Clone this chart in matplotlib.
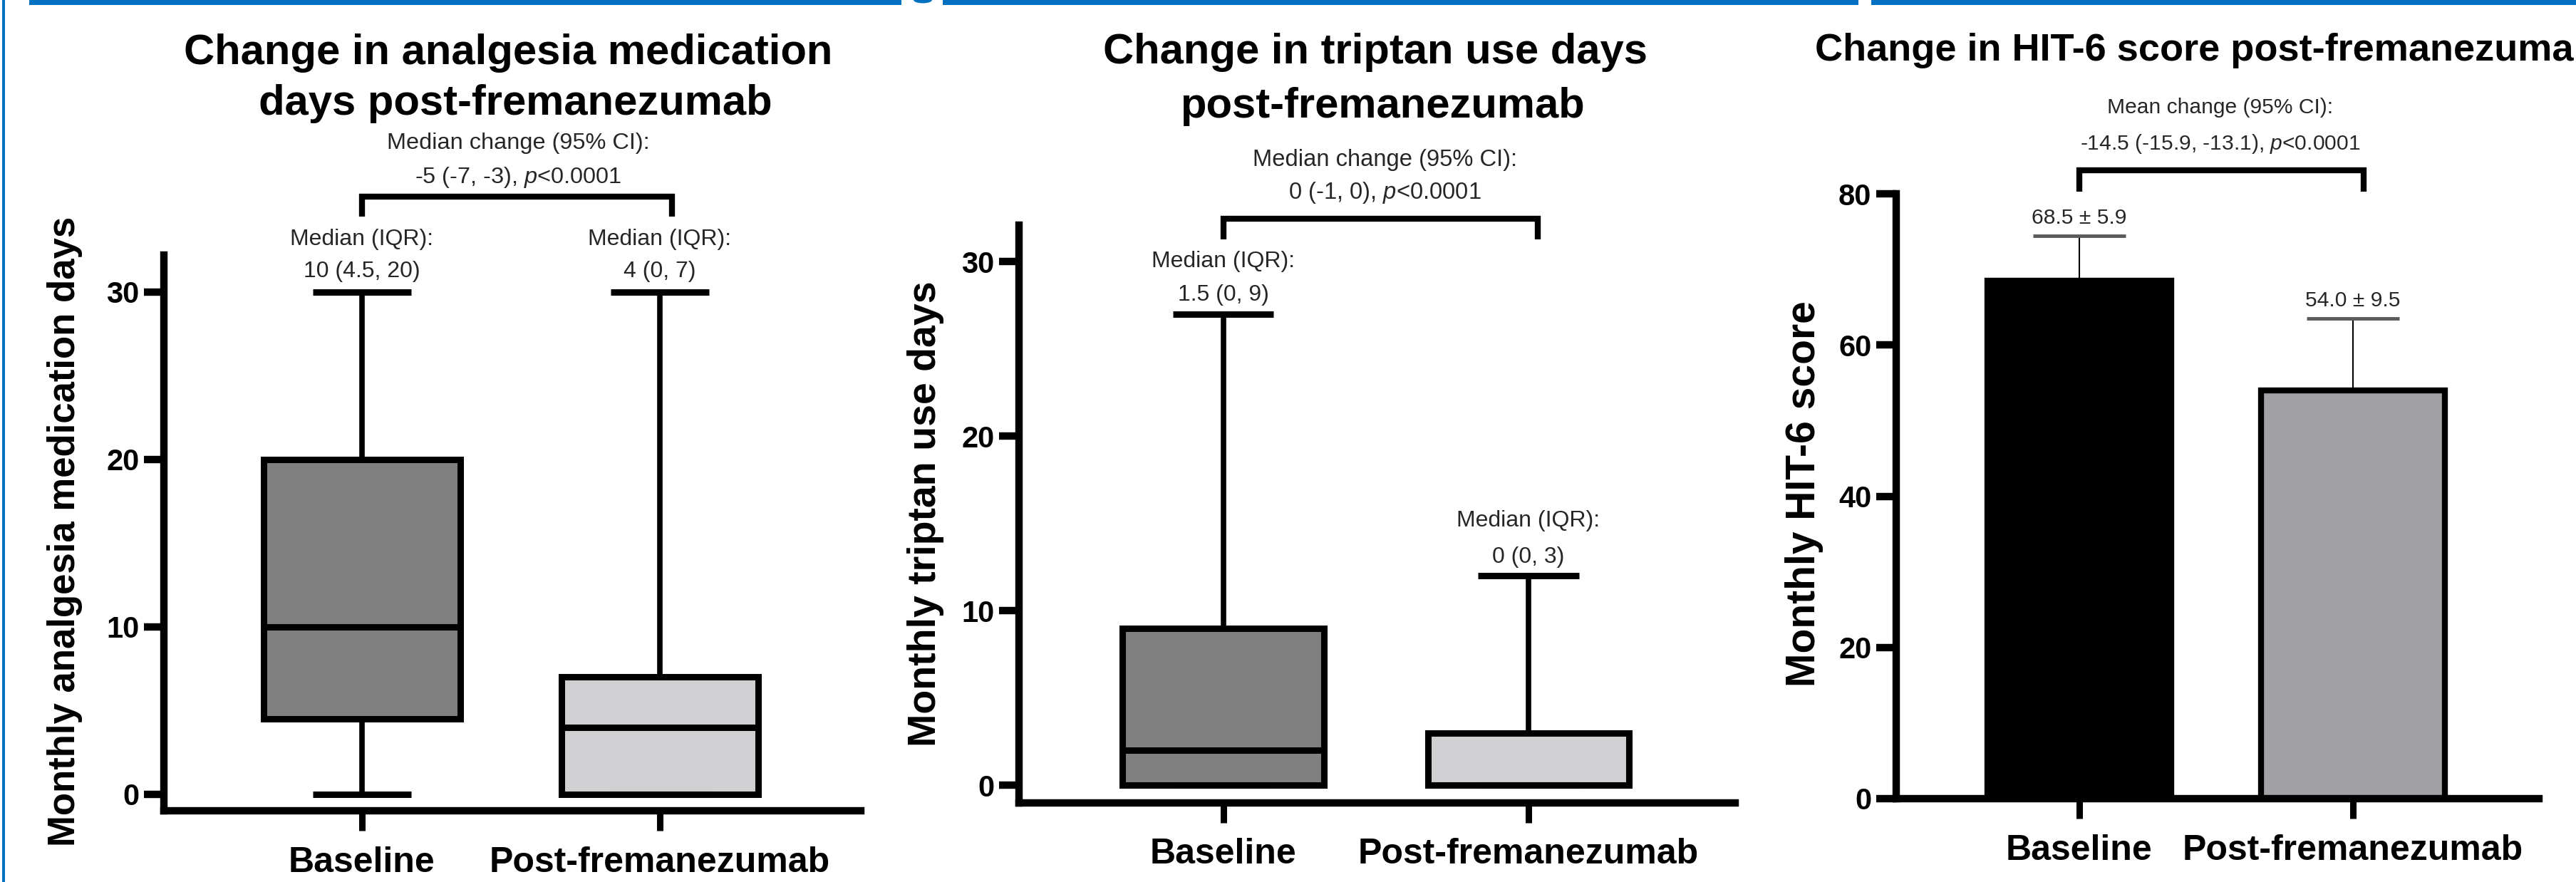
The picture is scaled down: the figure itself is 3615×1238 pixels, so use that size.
import matplotlib
matplotlib.use("Agg")
import matplotlib.pyplot as plt
from matplotlib.patches import Rectangle, Ellipse

plt.rcParams['font.family'] = ['Liberation Sans', 'DejaVu Sans']
plt.rcParams['mathtext.fontset'] = 'custom'
plt.rcParams['mathtext.rm'] = 'Liberation Sans'
plt.rcParams['mathtext.it'] = 'Liberation Sans:italic'

# ---------------- data ----------------
groups = ['Baseline', 'Post-fremanezumab']

analgesia_min = [0, 0]
analgesia_q1 = [4.5, 0]
analgesia_med = [10, 4]
analgesia_q3 = [20, 7]
analgesia_max = [30, 30]

triptan_min = [0, 0]
triptan_q1 = [0, 0]
triptan_med = [2, 0]
triptan_q3 = [9, 3]
triptan_max = [27, 12]

hit6_mean = [68.5, 54.0]
hit6_sd = [5.9, 9.5]

titles = [["Change in analgesia medication", "days post-fremanezumab"],
          ["Change in triptan use days", "post-fremanezumab"],
          ["Change in HIT-6 score post-fremanezumab"]]
ylabels = ["Monthly analgesia medication days",
           "Monthly triptan use days",
           "Monthly HIT-6 score"]
change_head = ["Median change (95% CI):", "Median change (95% CI):", "Mean change (95% CI):"]
change_vals = ["-5 (-7, -3), $\\mathit{p}$<0.0001",
               "0 (-1, 0), $\\mathit{p}$<0.0001",
               "-14.5 (-15.9, -13.1), $\\mathit{p}$<0.0001"]
analgesia_lbl = ["10 (4.5, 20)", "4 (0, 7)"]
triptan_lbl = ["1.5 (0, 9)", "0 (0, 3)"]
hit6_lbl = ["68.5 \u00b1 5.9", "54.0 \u00b1 9.5"]

box_colors = ['#808080', '#d0d0d2']
bar_colors = ['#000000', '#a2a1a6']
blue = '#0070c0'
txt_gray = '#262626'

W, H = 3615, 1238
fig = plt.figure(figsize=(W / 100, H / 100), dpi=100)


def ax_at(l, r, b, t):
    return fig.add_axes([l / W, 1 - b / H, (r - l) / W, (b - t) / H])


def style_axes(ax, yticks, xlim, ylim):
    for s in ['top', 'right']:
        ax.spines[s].set_visible(False)
    for s in ['left', 'bottom']:
        ax.spines[s].set_linewidth(7.5)
        ax.spines[s].set_capstyle('projecting')
    ax.set_xlim(*xlim)
    ax.set_ylim(*ylim)
    ax.set_yticks(yticks, [str(v) for v in yticks], fontsize=30, fontweight='bold')
    ax.set_xticks([0, 1], groups, fontsize=36, fontweight='bold')
    ax.tick_params(axis='y', length=20, width=7.5, pad=5)
    ax.tick_params(axis='x', length=20, width=6.5, pad=16)


def boxpanel(ax, mins, q1s, meds, q3s, maxs):
    stats = [dict(whislo=a, q1=b, med=c, q3=d, whishi=e, label=g)
             for a, b, c, d, e, g in zip(mins, q1s, meds, q3s, maxs, groups)]
    bp = ax.bxp(stats, positions=[0, 1], widths=0.66, capwidths=0.33,
                patch_artist=True, showfliers=False,
                boxprops=dict(linewidth=6.5, edgecolor='black'),
                medianprops=dict(color='black', linewidth=6.5, solid_capstyle='butt'),
                whiskerprops=dict(color='black', linewidth=5.5),
                capprops=dict(color='black', linewidth=6.5, solid_capstyle='butt'))
    for patch, c in zip(bp['boxes'], box_colors):
        patch.set_facecolor(c)


def bracket(ax, y_top, y_leg, x0, x1, lw=6):
    ax.plot([x0, x0, x1, x1], [y_leg, y_top, y_top, y_leg], color='black',
            lw=lw, clip_on=False, solid_joinstyle='miter', solid_capstyle='butt')


def note(ax, x, y, s, size):
    ax.text(x, y, s, ha='center', va='center', fontsize=size, color=txt_gray, clip_on=False)


# ---------------- panel 1 ----------------
ax1 = ax_at(230, 1208, 1138, 358)
boxpanel(ax1, analgesia_min, analgesia_q1, analgesia_med, analgesia_q3, analgesia_max)
style_axes(ax1, [0, 10, 20, 30], (-0.665, 1.675), (-1, 32.2))
bracket(ax1, 35.7, 34.5, 0, 1.04)
note(ax1, 0.524, 38.9, change_head[0], 23.4)
note(ax1, 0.524, 36.85, change_vals[0], 23.4)
for i in range(2):
    note(ax1, i, 33.15, "Median (IQR):", 23)
    note(ax1, i, 31.23, analgesia_lbl[i], 23)
ax1.set_ylabel(ylabels[0], fontsize=38, fontweight='bold')
ax1.yaxis.label.set(va='center', ha='center')
ax1.yaxis.set_label_coords(-0.142, 0.503)

# ---------------- panel 2 ----------------
ax2 = ax_at(1430, 2435, 1126.5, 316)
boxpanel(ax2, triptan_min, triptan_q1, triptan_med, triptan_q3, triptan_max)
style_axes(ax2, [0, 10, 20, 30], (-0.669, 1.677), (-1, 32.1))
bracket(ax2, 32.45, 31.3, 0, 1.03)
note(ax2, 0.53, 35.84, change_head[1], 23.6)
note(ax2, 0.53, 33.96, change_vals[1], 23.6)
note(ax2, 0, 30.0, "Median (IQR):", 23)
note(ax2, 0, 28.08, triptan_lbl[0], 23)
note(ax2, 1, 15.14, "Median (IQR):", 23)
note(ax2, 1, 13.06, triptan_lbl[1], 23)
ax2.set_ylabel(ylabels[1], fontsize=40, fontweight='bold')
ax2.yaxis.label.set(va='center', ha='center')
ax2.yaxis.set_label_coords(-0.130, 0.5)

# ---------------- panel 3 ----------------
ax3 = ax_at(2661, 3563, 1121, 272)
ax3.bar([0, 1], hit6_mean, width=0.672, color=bar_colors, edgecolor='black', linewidth=6, zorder=2)
tops = [m + s for m, s in zip(hit6_mean, hit6_sd)]
ax3.vlines([0, 1], hit6_mean, tops, color='black', lw=1.5, zorder=1)
ax3.hlines(tops, [-0.17, 0.83], [0.17, 1.17], color='#5a5a5a', lw=3.5, zorder=3)
style_axes(ax3, [0, 20, 40, 60, 80], (-0.669, 1.68), (0, 80))
bracket(ax3, 83.07, 80.3, 0, 1.04)
note(ax3, 0.516, 91.4, change_head[2], 21.6)
note(ax3, 0.516, 86.6, change_vals[2], 21.6)
note(ax3, 0, 76.8, hit6_lbl[0], 21.6)
note(ax3, 1, 65.9, hit6_lbl[1], 21.6)
ax3.set_ylabel(ylabels[2], fontsize=41, fontweight='bold')
ax3.yaxis.label.set(va='center', ha='center')
ax3.yaxis.set_label_coords(-0.143, 0.504)

# ---------------- titles ----------------
def ftext(x, y, s, size=43, **kw):
    fig.text(x / W, 1 - y / H, s, va='baseline', fontsize=size, fontweight='bold', **kw)

ftext(713, 90, titles[0][0], ha='center')
ftext(723, 161, titles[0][1], ha='center')
ftext(1930, 89, titles[1][0], ha='center')
ftext(1940, 165, titles[1][1], ha='center')
ftext(2547, 85, titles[2][0], size=39, ha='left')

# ---------------- blue frame decorations ----------------
for x0, x1 in [(41, 1265), (1323, 2608), (2626, W)]:
    fig.add_artist(Rectangle((x0 / W, 1 - 7 / H), (x1 - x0) / W, 7 / H,
                             transform=fig.transFigure, color=blue, lw=0))
fig.add_artist(Ellipse((1295 / W, 1), 26 / W, 9 / H, transform=fig.transFigure,
                       color=blue, lw=0))
fig.add_artist(Rectangle((3 / W, 0), 4 / W, 1, transform=fig.transFigure, color=blue, lw=0))

fig.savefig("out.png", dpi=100)
